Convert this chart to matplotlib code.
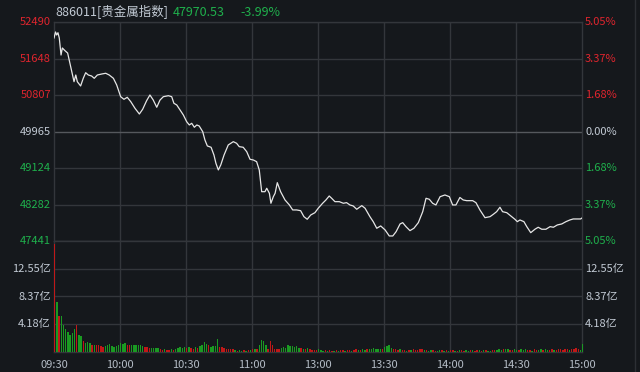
import matplotlib
matplotlib.use('Agg')
import matplotlib.pyplot as plt
from matplotlib.lines import Line2D

plt.rcParams['font.family'] = ['Noto Sans CJK SC', 'DejaVu Sans']

# price line: minute index (0..240, lunch break removed) and index value
minutes = [0, 0.7, 1.2, 1.8, 2.4, 3.2, 3.8, 5.0, 6.2, 7.6, 9.1, 9.9, 10.6, 12.1, 13.3, 14.4,
           15.6, 17.1, 18.3, 19.7, 21.7, 23.5, 25.1, 27.0, 28.5, 30.3, 31.8, 33.3, 34.9,
           36.8, 38.8, 40.3, 42.1, 43.6, 45.1, 46.7, 48.2, 49.7, 52.0, 53.5, 54.5, 55.8,
           57.3, 58.8, 60.3, 61.5, 62.6, 63.8, 64.9, 66.0, 67.6, 68.6, 69.7, 71.4, 72.7,
           73.6, 74.7, 75.8, 77.3, 79.2, 81.5, 83.0, 84.2, 86.0, 87.6, 89.1, 90.6, 92.1,
           93.3, 94.4, 95.9, 96.7, 97.9, 98.6, 99.7, 100.5, 101.5, 103.0, 105.0, 107.0,
           108.5, 110.3, 112.1, 113.6, 115.1, 116.7, 118.6, 120.1,
           122.1, 123.6, 125.1, 126.2, 127.7, 129.7, 131.5, 133.0, 134.5, 136.0, 137.6,
           139.9, 141.4, 143.6, 145.1, 146.7, 148.5, 150.5, 152.4, 154.0, 155.5, 157.3,
           158.5, 160.0, 161.8, 163.6, 165.6, 167.6, 169.1, 170.6, 172.1, 173.6, 175.5,
           177.7, 179.7, 181.2, 182.7, 184.5, 186.0, 187.6, 190.3, 191.8, 193.6, 195.9,
           198.2, 199.7, 201.2, 202.7, 203.9, 205.8, 208.0, 209.5, 210.6, 211.8, 213.6,
           214.9, 216.7, 218.6, 220.1, 221.7, 223.6, 225.5, 227.0, 228.8, 230.8, 232.7,
           234.5, 236.0, 239.4, 240]
prices = [52121, 52260, 52190, 52243, 52121, 51729, 51891, 51828, 51775, 51460, 51114, 51268,
          51114, 51015, 51192, 51321, 51268, 51245, 51192, 51268, 51291, 51308, 51268, 51192,
          51038, 50768, 50708, 50754, 50653, 50501, 50369, 50478, 50676, 50807, 50692, 50524,
          50692, 50768, 50791, 50768, 50616, 50577, 50462, 50346, 50192, 50116, 50155, 50063,
          50116, 50093, 49961, 49770, 49632, 49602, 49424, 49233, 49079, 49194, 49424, 49655,
          49731, 49694, 49616, 49602, 49500, 49325, 49309, 49270, 49079, 48578, 48578, 48657,
          48541, 48311, 48463, 48541, 48786, 48578, 48387, 48272, 48157, 48157, 48140, 48002,
          47942, 48041, 48094, 48196,
          48311, 48387, 48479, 48426, 48348, 48348, 48311, 48325, 48272, 48249, 48173, 48256,
          48196, 48002, 47887, 47735, 47788, 47696, 47557, 47557, 47656, 47834, 47864, 47772,
          47680, 47735, 47864, 48117, 48426, 48403, 48311, 48272, 48463, 48502, 48463, 48272,
          48272, 48445, 48387, 48371, 48371, 48325, 48157, 47979, 48002, 48057, 48117, 48219,
          48117, 48094, 48002, 47942, 47887, 47926, 47887, 47772, 47633, 47712, 47758, 47712,
          47712, 47772, 47758, 47811, 47834, 47887, 47926, 47949, 47949, 47971]

# volume per minute (亿), 241 bars
volumes = [16.3, 7.5, 5.5, 5.4, 4.1, 3.4, 3.0, 2.6, 2.8, 3.4,
           4.0, 2.6, 2.4, 1.6, 1.4, 1.5, 1.3, 1.0, 1.0, 1.0,
           1.1, 0.9, 0.8, 0.9, 1.0, 1.2, 0.9, 0.7, 0.9, 1.0,
           1.4, 1.2, 1.4, 1.1, 1.1, 1.0, 1.0, 1.0, 1.0, 1.0,
           0.9, 0.7, 0.7, 0.6, 0.6, 0.6, 0.6, 0.6, 0.4, 0.3,
           0.4, 0.3, 0.3, 0.4, 0.3, 0.4, 0.6, 0.7, 0.6, 0.75,
           0.6, 0.7, 0.6, 0.5, 0.7, 0.6, 0.9, 1.0, 1.5, 1.2,
           1.0, 0.7, 0.9, 0.9, 2.0, 0.8, 0.7, 0.6, 0.5, 0.5,
           0.5, 0.4, 0.3, 0.2, 0.3, 0.2, 0.3, 0.2, 0.3, 0.3,
           0.4, 0.5, 0.4, 1.0, 1.8, 1.6, 1.0, 0.5, 1.7, 1.1,
           0.5, 0.5, 0.4, 0.6, 0.7, 0.6, 1.0, 0.9, 0.9, 0.8,
           0.9, 0.6, 0.6, 0.5, 0.5, 0.6, 0.4, 0.3, 0.3, 0.3,
           0.4,
           0.3, 0.2, 0.3, 0.2, 0.3, 0.2, 0.2, 0.3, 0.2, 0.3,
           0.3, 0.2, 0.3, 0.3, 0.2, 0.3, 0.4, 0.3, 0.3, 0.4,
           0.3, 0.4, 0.5, 0.5, 0.6, 0.4, 0.5, 0.4, 0.5, 0.7,
           0.9, 1.0, 0.6, 0.4, 0.5, 0.3, 0.4, 0.3, 0.3, 0.2,
           0.3, 0.3, 0.4, 0.3, 0.3, 0.5, 0.4, 0.3, 0.3, 0.2,
           0.3, 0.3, 0.2, 0.2, 0.3, 0.3, 0.2, 0.3, 0.2, 0.3,
           0.3, 0.2, 0.2, 0.3, 0.3, 0.2, 0.3, 0.2, 0.3, 0.3,
           0.2, 0.3, 0.3, 0.2, 0.3, 0.3, 0.2, 0.2, 0.3, 0.3,
           0.3, 0.4, 0.3, 0.4, 0.5, 0.4, 0.3, 0.3, 0.4, 0.3,
           0.3, 0.4, 0.3, 0.4, 0.3, 0.3, 0.2, 0.4, 0.3, 0.3,
           0.4, 0.3, 0.4, 0.3, 0.3, 0.4, 0.3, 0.3, 0.4, 0.4,
           0.3, 0.4, 0.4, 0.3, 0.5, 0.4, 0.6, 0.5, 0.3, 1.2]
# r = up minute, g = down minute
vol_colors = ("rgrggggggg" "rggrgggrgr" "rrrggggggg" "gggrrggggg" "grrrggggrr"
              "grrgrggggg" "rgrrgrgggg" "rggggrrrrr" "rrgrggrgrg" "rgrggggrrr"
              "rrrggggggg" "ggrgrgrrrr" "g"
              "ggrgrrgrgr" "rgrrgrrgrg" "grggggggrg" "gggrrrgrrg" "rgrrrrrgrg"
              "grrggrgrgr" "rgrgrrggrg" "rrgrgrggrr" "gggrggrrgg" "rgggrrgrrg"
              "grggrrgrrr" "rrrgrrrrgg")

time_pos = [0, 30, 60, 90, 120, 150, 180, 210, 240]
time_labels = ['09:30', '10:00', '10:30', '11:00', '13:00', '13:30', '14:00', '14:30', '15:00']
price_ticks = [52490, 51648, 50807, 49965, 49124, 48282, 47441]
pct_labels = ['5.05%', '3.37%', '1.68%', '0.00%', '1.68%', '3.37%', '5.05%']
vol_ticks = [4.18, 8.37, 12.55]
vol_labels = ['4.18亿', '8.37亿', '12.55亿']

BG = '#15181c'
GRID = '#33363b'
RED = '#e0252e'
GREEN = '#1fb04c'
GRAY = '#c2cad4'
tick_colors = [RED, RED, RED, GRAY, GREEN, GREEN, GREEN]

fig = plt.figure(figsize=(6.4, 3.72), dpi=100, facecolor=BG)
W, H = 640, 372
ax = fig.add_axes([54 / W, (H - 241) / H, 528 / W, 219 / H], facecolor=BG)
axv = fig.add_axes([54 / W, (H - 352) / H, 528 / W, 111 / H], facecolor=BG)

for a in (ax, axv):
    a.set_xlim(0, 240)
    a.set_xticks([])
    a.set_yticks([])
    for s in a.spines.values():
        s.set_color(GRID)
        s.set_linewidth(1)
        s.set_zorder(1)
    for t in time_pos[1:-1]:
        a.axvline(t, color=GRID, lw=1, zorder=0)

ax.set_ylim(47441, 52490)
for v, c, pl in zip(price_ticks, tick_colors, pct_labels):
    lc = '#55585d' if v == 49965 else GRID
    ax.axhline(v, color=lc, lw=1, zorder=0)
    ax.annotate(str(v), xy=(0, v), xycoords=('axes fraction', 'data'), xytext=(-3, 0),
                textcoords='offset pixels', ha='right', va='center', color=c, fontsize=8)
    ax.annotate(pl, xy=(1, v), xycoords=('axes fraction', 'data'), xytext=(3, 0),
                textcoords='offset pixels', ha='left', va='center', color=c, fontsize=8)

ax.plot(minutes, prices, color='#e6e6e6', lw=0.9, zorder=3)

axv.set_ylim(0, 16.73)
for v, lab in zip(vol_ticks, vol_labels):
    axv.axhline(v, color=GRID, lw=1, zorder=0)
    axv.annotate(lab, xy=(0, v), xycoords=('axes fraction', 'data'), xytext=(-3, 0),
                 textcoords='offset pixels', ha='right', va='center', color=GRAY, fontsize=8)
    axv.annotate(lab, xy=(1, v), xycoords=('axes fraction', 'data'), xytext=(3, 0),
                 textcoords='offset pixels', ha='left', va='center', color=GRAY, fontsize=8)

bar_cols = ['#c01818' if c == 'r' else '#1a9a22' for c in vol_colors]
axv.bar(range(len(volumes)), volumes, width=0.6, align='edge', color=bar_cols,
        zorder=3, clip_on=False)

for t, lab in zip(time_pos, time_labels):
    fig.text((54 + t * 2.2) / W, 1 - 365 / H, lab, ha='center', va='center',
             color='#b4bcc6', fontsize=8)

fig.text(55 / W, 1 - 12 / H, '886011[贵金属指数]', ha='left', va='center', color=GRAY, fontsize=9)
fig.text(173 / W, 1 - 12 / H, '47970.53', ha='left', va='center', color=GREEN, fontsize=9)
fig.text(240 / W, 1 - 12 / H, '-3.99%', ha='left', va='center', color=GREEN, fontsize=9)

fig.add_artist(Line2D([635 / W, 635 / W], [0, 1], color='#2c2f34', lw=1))

fig.savefig('out.png', dpi=100, facecolor=BG)
